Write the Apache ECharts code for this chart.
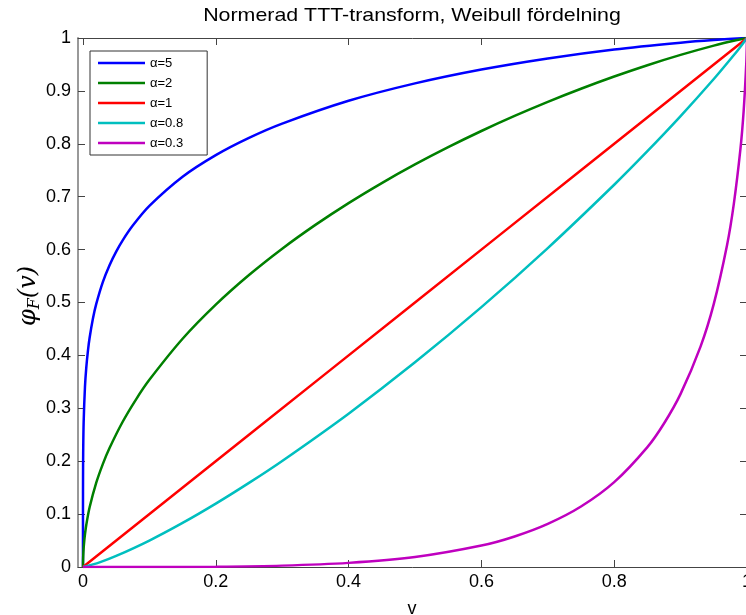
<!DOCTYPE html>
<html>
<head>
<meta charset="utf-8">
<script src="https://cdn.jsdelivr.net/npm/echarts@6/dist/echarts.min.js"></script>
<style>
  html, body { margin: 0; padding: 0; background: #fff; }
  #chart { width: 746px; height: 615px; }
</style>
</head>
<body>
<div id="chart"></div>
<script>
// Scaled TTT transform of the Weibull distribution, one curve per shape value.
const seriesNames = ['α=5', 'α=2', 'α=1', 'α=0.8', 'α=0.3'];
const seriesColors = ['#0000ff', '#008000', '#ff0000', '#00bfbf', '#bf00bf'];

const vA5 = [0, 0.000001, 0.00001, 0.0001, 0.0003, 0.001, 0.003, 0.005, 0.0075, 0.01, 0.015, 0.02, 0.03, 0.04, 0.05, 0.06, 0.075, 0.1, 0.15, 0.2, 0.25, 0.3, 0.4, 0.5, 0.6, 0.7, 0.8, 0.9, 0.95, 1];
const phiA5 = [0, 0.0687, 0.1089, 0.1726, 0.2150, 0.2736, 0.3407, 0.3774, 0.4092, 0.4333, 0.4697, 0.4974, 0.5391, 0.5706, 0.5962, 0.6180, 0.6455, 0.6826, 0.7377, 0.7786, 0.8112, 0.8382, 0.8813, 0.9142, 0.9404, 0.9614, 0.9784, 0.9912, 0.9962, 1];

const vA2 = [0, 0.0001, 0.0003, 0.001, 0.002, 0.003, 0.005, 0.01, 0.02, 0.03, 0.04, 0.06, 0.08, 0.1, 0.15, 0.2, 0.25, 0.3, 0.35, 0.4, 0.45, 0.5, 0.55, 0.6, 0.65, 0.7, 0.75, 0.8, 0.85, 0.9, 0.95, 0.98, 1];
const phiA2 = [0, 0.0113, 0.0195, 0.0357, 0.0505, 0.0618, 0.0798, 0.1128, 0.1593, 0.1950, 0.2249, 0.2750, 0.3170, 0.3538, 0.4314, 0.4959, 0.5519, 0.6017, 0.6467, 0.6879, 0.7258, 0.7610, 0.7937, 0.8242, 0.8527, 0.8793, 0.9041, 0.9272, 0.9486, 0.9681, 0.9856, 0.9948, 1];

const vA1 = [0, 0.25, 0.5, 0.75, 1];
const phiA1 = [0, 0.25, 0.5, 0.75, 1];

const vA08 = [0, 0.025, 0.05, 0.1, 0.15, 0.2, 0.25, 0.3, 0.4, 0.5, 0.6, 0.7, 0.8, 0.85, 0.9, 0.95, 0.98, 0.99, 1];
const phiA08 = [0, 0.0088, 0.0209, 0.0500, 0.0833, 0.1198, 0.1590, 0.2005, 0.2899, 0.3869, 0.4912, 0.6029, 0.7226, 0.7860, 0.8523, 0.9224, 0.9673, 0.9831, 1];

const vA03 = [0, 0.1, 0.2, 0.3, 0.4, 0.5, 0.6, 0.65, 0.7, 0.75, 0.8, 0.85, 0.875, 0.9, 0.93, 0.95, 0.97, 0.98, 0.99, 0.995, 0.999, 0.9999, 1];
const phiA03 = [0, 0.00006, 0.0006, 0.0026, 0.0078, 0.0188, 0.0405, 0.0577, 0.0815, 0.1143, 0.1604, 0.2267, 0.2713, 0.3273, 0.4166, 0.4974, 0.6088, 0.6850, 0.7888, 0.8628, 0.9540, 0.9917, 1];

const xTicks = [0, 0.2, 0.4, 0.6, 0.8, 1];
const xTickLabels = ['0', '0.2', '0.4', '0.6', '0.8', '1'];
const yTickLabels = ['0', '0.1', '0.2', '0.3', '0.4', '0.5', '0.6', '0.7', '0.8', '0.9', '1'];

const titleText = 'Normerad TTT-transform, Weibull fördelning';
const xName = 'v';

const curves = [[vA5, phiA5], [vA2, phiA2], [vA1, phiA1], [vA08, phiA08], [vA03, phiA03]];

const sans = 'Liberation Sans';
const serif = 'DejaVu Serif';

function pairs(xs, ys) {
  return xs.map((x, i) => [x, ys[i]]);
}

const chart = echarts.init(document.getElementById('chart'), null, { renderer: 'canvas' });

const boxLine = { show: true, onZero: false, lineStyle: { color: '#444', width: 1 } };
const tickStyle = { color: '#444', width: 1 };

chart.setOption({
  animation: false,
  backgroundColor: '#fff',
  grid: { left: 78, right: -1, top: 38, bottom: 48, containLabel: false, outerBoundsMode: 'none' },
  legend: {
    data: seriesNames,
    orient: 'vertical',
    left: 90,
    top: 51,
    icon: 'rect',
    itemWidth: 47,
    itemHeight: 2.5,
    itemGap: 6,
    padding: [5, 24, 5, 8],
    borderColor: '#333',
    borderWidth: 1,
    backgroundColor: '#fff',
    textStyle: { fontFamily: sans, fontSize: 13, lineHeight: 14, color: '#000' }
  },
  xAxis: [
    {
      type: 'value', position: 'bottom', min: -0.0075, max: 1,
      axisLine: boxLine,
      axisTick: { show: true, inside: true, length: 7, lineStyle: tickStyle, customValues: xTicks },
      axisLabel: {
        show: true, margin: 6, fontFamily: sans, fontSize: 18, color: '#000',
        customValues: xTicks,
        formatter: v => xTickLabels[Math.round(v / 0.2)]
      },
      splitLine: { show: false }
    },
    {
      type: 'value', position: 'top', min: -0.0075, max: 1,
      axisLine: boxLine,
      axisTick: { show: true, inside: true, length: 7, lineStyle: tickStyle, customValues: xTicks },
      axisLabel: { show: false },
      splitLine: { show: false }
    }
  ],
  yAxis: [
    {
      type: 'value', position: 'left', min: 0, max: 1, interval: 0.1,
      axisLine: { show: true, onZero: false, lineStyle: { color: '#999', width: 2 } },
      axisTick: { show: true, inside: true, length: 7, lineStyle: tickStyle },
      axisLabel: {
        show: true, margin: 7, fontFamily: sans, fontSize: 18, color: '#000',
        formatter: v => yTickLabels[Math.round(v * 10)]
      },
      splitLine: { show: false }
    },
    {
      type: 'value', position: 'right', min: 0, max: 1, interval: 0.1,
      axisLine: boxLine,
      axisTick: { show: true, inside: true, length: 7, lineStyle: tickStyle },
      axisLabel: { show: false },
      splitLine: { show: false }
    }
  ],
  series: curves.map((c, i) => ({
    name: seriesNames[i],
    type: 'line',
    xAxisIndex: 0,
    yAxisIndex: 0,
    data: pairs(c[0], c[1]),
    symbol: 'none',
    showSymbol: false,
    smooth: 0.3,
    clip: true,
    color: seriesColors[i],
    itemStyle: { color: seriesColors[i] },
    lineStyle: { color: seriesColors[i], width: 2.5 }
  })),
  graphic: [
    {
      type: 'text', x: 412, y: 16, scaleX: 1.125,
      style: {
        text: titleText, fontFamily: sans, fontSize: 19, fill: '#000',
        align: 'center', verticalAlign: 'middle', textAlign: 'center', textVerticalAlign: 'middle'
      }
    },
    {
      type: 'text', x: 412, y: 609,
      style: {
        text: xName, fontFamily: sans, fontSize: 18, fill: '#000',
        align: 'center', verticalAlign: 'middle', textAlign: 'center', textVerticalAlign: 'middle'
      }
    },
    {
      type: 'text', x: 29, y: 296, rotation: Math.PI / 2,
      style: {
        text: '{p|φ}{s|F}{p|(}{p|v}{p|)}',
        fill: '#000',
        align: 'center', verticalAlign: 'middle', textAlign: 'center', textVerticalAlign: 'middle',
        rich: {
          p: { fontFamily: serif, fontStyle: 'italic', fontSize: 24, lineHeight: 28, fill: '#000' },
          s: { fontFamily: serif, fontStyle: 'italic', fontSize: 16, lineHeight: 10, verticalAlign: 'bottom', fill: '#000' }
        }
      }
    }
  ]
});
</script>
</body>
</html>
